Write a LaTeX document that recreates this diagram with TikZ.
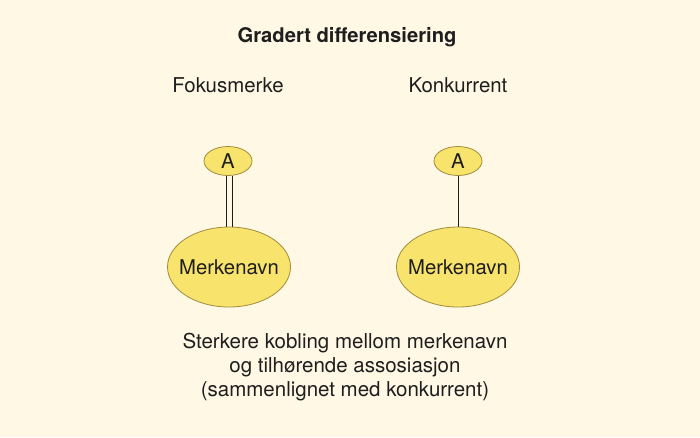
\documentclass[tikz,border=0pt]{standalone}
\usepackage{fontspec}
\setmainfont{TeX Gyre Heros}
\usetikzlibrary{shapes.geometric}
\definecolor{bg}{HTML}{FEF8E5}
\definecolor{ellfill}{HTML}{F8E36C}
\definecolor{ellline}{HTML}{A08C3C}
\definecolor{ink}{HTML}{1E1E1E}
\tikzset{
  ell/.style={ellipse, draw=ellline, fill=ellfill, line width=0.8pt, inner sep=0pt, text=ink, font=\fontsize{20.3}{23}\selectfont},
  lbl/.style={text=ink, font=\fontsize{20.4}{23}\selectfont},
  link/.style={draw=ink, line width=0.9pt}
}
\begin{document}
\begin{tikzpicture}[x=1pt,y=-1pt]
\fill[bg] (0,0) rectangle (700,437);
\useasboundingbox (0,0) rectangle (700,437);
\node[lbl, font=\fontsize{20.2}{23}\selectfont\bfseries] (title) at (347,37) {Gradert differensiering};
\node[lbl] (fokus) at (228,85) {Fokusmerke};
\node[lbl] (konk) at (458,85) {Konkurrent};
\node[ell, minimum width=48pt, minimum height=29pt] (a1) at (228,161) {A};
\node[ell, minimum width=48pt, minimum height=29pt] (a2) at (458,161) {A};
\node[ell, inner xsep=-8pt, minimum width=123pt, minimum height=80pt] (m1) at (229,267) {Merkenavn};
\node[ell, inner xsep=-8pt, minimum width=123pt, minimum height=80pt] (m2) at (458,267) {Merkenavn};
\draw[link] ([xshift=-2pt]a1.south) -- ([xshift=-2pt]a1.south |- m1.north);
\draw[link] ([xshift=4pt]a1.south) -- ([xshift=4pt]a1.south |- m1.north);
\draw[link] (a2.south) -- (m2.north);
\node[lbl, align=center, font=\fontsize{20.5}{24.2}\selectfont] (caption) at (345,367) {Sterkere kobling mellom merkenavn\\og tilhørende assosiasjon\\(sammenlignet med konkurrent)};
\end{tikzpicture}
\end{document}
